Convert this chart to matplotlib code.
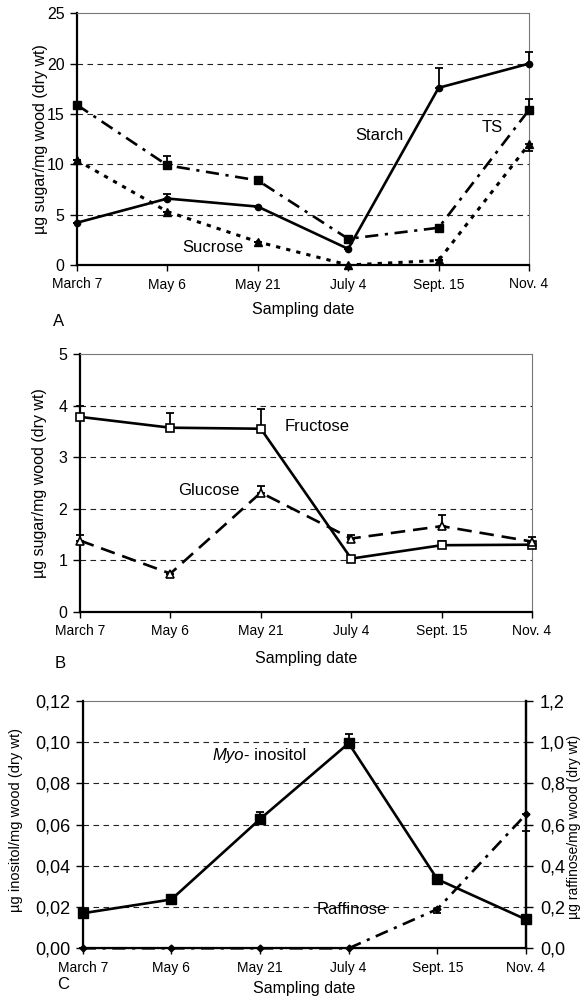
import numpy as np
import matplotlib
matplotlib.use('Agg')
import matplotlib.pyplot as plt

plt.rcParams['font.family'] = ['Liberation Sans', 'DejaVu Sans']

# sampling dates (shared x axis)
dates = ['March 7', 'May 6', 'May 21', 'July 4', 'Sept. 15', 'Nov. 4']

# panel A: starch, total sugars, sucrose (ug/mg dry wt)
starch = [4.2, 6.6, 5.8, 1.6, 17.6, 20.0]
starch_err = [0.0, 0.5, 0.0, 0.0, 2.0, 1.2]
ts = [15.9, 9.9, 8.4, 2.6, 3.7, 15.4]
ts_err = [0.2, 0.9, 0.3, 0.0, 0.0, 1.1]
sucrose = [10.4, 5.3, 2.3, 0.0, 0.45, 12.0]
sucrose_err_lo = [0.0, 0.0, 0.0, 0.0, 0.0, 0.7]

# panel B: fructose, glucose
fructose = [3.78, 3.57, 3.55, 1.03, 1.29, 1.30]
fructose_err = [0.22, 0.29, 0.38, 0.0, 0.09, 0.0]
glucose = [1.38, 0.74, 2.31, 1.42, 1.66, 1.36]
glucose_err = [0.10, 0.0, 0.13, 0.06, 0.21, 0.08]

# panel C: myo-inositol (left axis), raffinose (right axis)
inositol = [0.017, 0.0237, 0.0627, 0.0995, 0.0335, 0.014]
inositol_err = [0.0, 0.0, 0.0036, 0.0045, 0.0, 0.0]
raffinose = [0.0, 0.0, 0.0, 0.0, 0.19, 0.65]
raffinose_err_lo = [0.0, 0.0, 0.0, 0.0, 0.02, 0.08]

c_left_labels = ['0,00', '0,02', '0,04', '0,06', '0,08', '0,10', '0,12']
c_right_labels = ['0,0', '0,2', '0,4', '0,6', '0,8', '1,0', '1,2']

x = np.arange(len(dates))
W, H = 581, 997
fig = plt.figure(figsize=(W / 100, H / 100), dpi=100)


def make_ax(l, r, t, b):
    return fig.add_axes([l / W, 1 - b / H, (r - l) / W, (b - t) / H])


def style(ax, ymax, step, right_black=False):
    ax.set_xlim(0, 5)
    ax.set_ylim(0, ymax)
    ax.set_xticks(x)
    ax.set_xticklabels(dates, fontsize=10)
    ax.tick_params(axis='x', direction='out', length=4, width=1, pad=5)
    ax.tick_params(axis='y', direction='out', length=5, width=1, pad=4, labelsize=11.5)
    for s in ['left', 'bottom']:
        ax.spines[s].set_linewidth(1.6)
    ax.spines['top'].set_linewidth(0.8)
    ax.spines['top'].set_color('#777777')
    if right_black:
        ax.spines['right'].set_linewidth(1.6)
    else:
        ax.spines['right'].set_linewidth(0.8)
        ax.spines['right'].set_color('#777777')
    for v in np.arange(step, ymax - step / 2, step):
        ax.axhline(v, color='#222222', lw=0.8, ls=(0, (5, 4)), zorder=1)


def err(ax, y, lo, hi):
    ax.errorbar(x, y, yerr=[lo, hi], fmt='none', ecolor='black',
                elinewidth=1.3, capsize=3, capthick=1.3, clip_on=False, zorder=4)


dashdot = (0, (5, 2.5, 1.2, 2.5))
zeros = [0] * 6

# ---- panel A
axA = make_ax(77, 529, 13.3, 265)
style(axA, 25, 5)
axA.set_yticks(np.arange(0, 26, 5))
err(axA, starch, zeros, starch_err)
err(axA, ts, zeros, ts_err)
err(axA, sucrose, sucrose_err_lo, zeros)
axA.plot(x, starch, '-', color='black', lw=1.9, marker='o', ms=4.5, clip_on=False, zorder=5)
axA.plot(x, ts, color='black', lw=1.9, ls=dashdot, marker='s', ms=6, clip_on=False, zorder=5)
axA.plot(x, sucrose, color='black', lw=2.2, ls=(0, (1.4, 2.0)), marker='^', ms=6,
         clip_on=False, zorder=5)
axA.text(3.35, 12.9, 'Starch', fontsize=12, ha='center', va='center')
axA.text(4.59, 13.7, 'TS', fontsize=12, ha='center', va='center')
axA.text(1.5, 1.7, 'Sucrose', fontsize=12, ha='center', va='center')
axA.set_ylabel('µg sugar/mg wood (dry wt)', fontsize=11.5)
axA.yaxis.set_label_coords(-0.064, 0.5)

# ---- panel B
axB = make_ax(80, 532, 354, 611.7)
style(axB, 5, 1)
axB.set_yticks(np.arange(0, 6, 1))
err(axB, fructose, zeros, fructose_err)
err(axB, glucose, zeros, glucose_err)
axB.plot(x, fructose, '-', color='black', lw=1.9, marker='s', ms=6, mfc='white',
         mew=1.2, clip_on=False, zorder=5)
axB.plot(x, glucose, color='black', lw=1.9, ls=(0, (5.5, 3)), marker='^', ms=6,
         mfc='white', mew=1.2, clip_on=False, zorder=5)
axB.text(2.62, 3.6, 'Fructose', fontsize=12, ha='center', va='center')
axB.text(1.42, 2.35, 'Glucose', fontsize=12, ha='center', va='center')
axB.set_ylabel('µg sugar/mg wood (dry wt)', fontsize=11.5)
axB.yaxis.set_label_coords(-0.073, 0.5)

# ---- panel C
axC = make_ax(82.7, 526, 701, 948.3)
style(axC, 0.12, 0.02, right_black=True)
axC.set_yticks(np.linspace(0, 0.12, 7))
axC.set_yticklabels(c_left_labels)
axC.tick_params(axis='y', labelsize=13)
axR = axC.twinx()
axR.set_ylim(0, 1.2)
axR.set_yticks(np.linspace(0, 1.2, 7))
axR.set_yticklabels(c_right_labels)
axR.tick_params(axis='y', direction='out', length=5, width=1, pad=5, labelsize=13)
axR.spines['right'].set_linewidth(1.6)
axR.spines['top'].set_visible(False)
err(axC, inositol, zeros, inositol_err)
err(axR, raffinose, raffinose_err_lo, zeros)
axC.plot(x, inositol, '-', color='black', lw=1.9, marker='s', ms=6.5, clip_on=False, zorder=5)
axR.plot(x, raffinose, color='black', lw=1.9, ls=dashdot, marker='D', ms=3.5,
         clip_on=False, zorder=5)
axC.text(1.82, 0.0936, 'Myo', fontsize=12, style='italic', ha='right', va='center')
axC.text(1.82, 0.0936, '- inositol', fontsize=12, ha='left', va='center')
axC.text(3.03, 0.019, 'Raffinose', fontsize=12, ha='center', va='center')
axC.set_ylabel('µg inositol/mg wood (dry wt)', fontsize=10.5)
axC.yaxis.set_label_coords(-0.135, 0.52)
axR.set_ylabel('µg raffinose/mg wood (dry wt)', fontsize=10, rotation=90)
axR.yaxis.set_label_coords(1.0925, 0.49)

# x labels and panel letters
fig.text(303 / W, 1 - 309 / H, 'Sampling date', fontsize=11.5, ha='center', va='center')
fig.text(306 / W, 1 - 658 / H, 'Sampling date', fontsize=11.5, ha='center', va='center')
fig.text(304 / W, 1 - 988 / H, 'Sampling date', fontsize=11.5, ha='center', va='center')
fig.text(59 / W, 1 - 321 / H, 'A', fontsize=12, ha='center', va='center')
fig.text(60 / W, 1 - 663 / H, 'B', fontsize=12, ha='center', va='center')
fig.text(63 / W, 1 - 984 / H, 'C', fontsize=12, ha='center', va='center')

fig.savefig('out.png', dpi=100)
